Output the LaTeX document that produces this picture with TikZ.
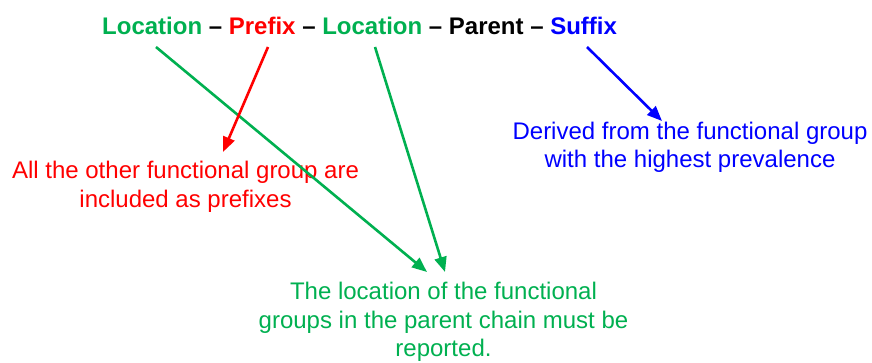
\documentclass[tikz,border=0pt]{standalone}
\usepackage{fontspec}
\setmainfont{Liberation Sans}
\usetikzlibrary{arrows.meta}
\definecolor{locgreen}{HTML}{00B050}
\definecolor{prefred}{HTML}{FF0000}
\definecolor{sufblue}{HTML}{0000FF}
\tikzset{
  title/.style={font=\fontsize{24}{28}\selectfont\bfseries, inner sep=0pt, anchor=base west},
  % base anchor of a multi-line note sits on its last line
  note/.style={font=\fontsize{24}{28.5}\selectfont, inner sep=0pt, align=center, anchor=base},
  pointer/.style={line width=2.6pt, -{Triangle[length=15pt,width=12pt]}},
}
\begin{document}
\begin{tikzpicture}[x=1pt,y=-1pt]
  \useasboundingbox (0,0) rectangle (872,363);

  % naming pattern across the top
  \node[title] (name) at (102,35)
    {\textcolor{locgreen}{Location} – \textcolor{prefred}{Prefix} – \textcolor{locgreen}{Location} – Parent – \textcolor{sufblue}{Suffix}};

  % explanatory notes
  \node[note, text=prefred] (prefnote) at (185.5,207.5)
    {All the other functional group are\\included as prefixes};
  \node[note, text=sufblue] (sufnote) at (690,168)
    {Derived from the functional group\\with the highest prevalence};
  \node[note, text=locgreen] (locnote) at (443.5,356.5)
    {The location of the functional\\groups in the parent chain must be\\reported.};

  % arrow ends
  \coordinate (locAfrom) at (156,47);
  \coordinate (prefrom)  at (268,47);
  \coordinate (locBfrom) at (375,47);
  \coordinate (suffrom)  at (587,47);
  \coordinate (locAto) at (427,272);
  \coordinate (locBto) at (445,272);
  \coordinate (preto)  at (223,152);
  \coordinate (sufto)  at (662,121);

  \draw[pointer, locgreen] (locAfrom) -- (locAto);
  \draw[pointer, locgreen] (locBfrom) -- (locBto);
  \draw[pointer, prefred]  (prefrom) -- (preto);
  \draw[pointer, sufblue]  (suffrom) -- (sufto);
\end{tikzpicture}
\end{document}
